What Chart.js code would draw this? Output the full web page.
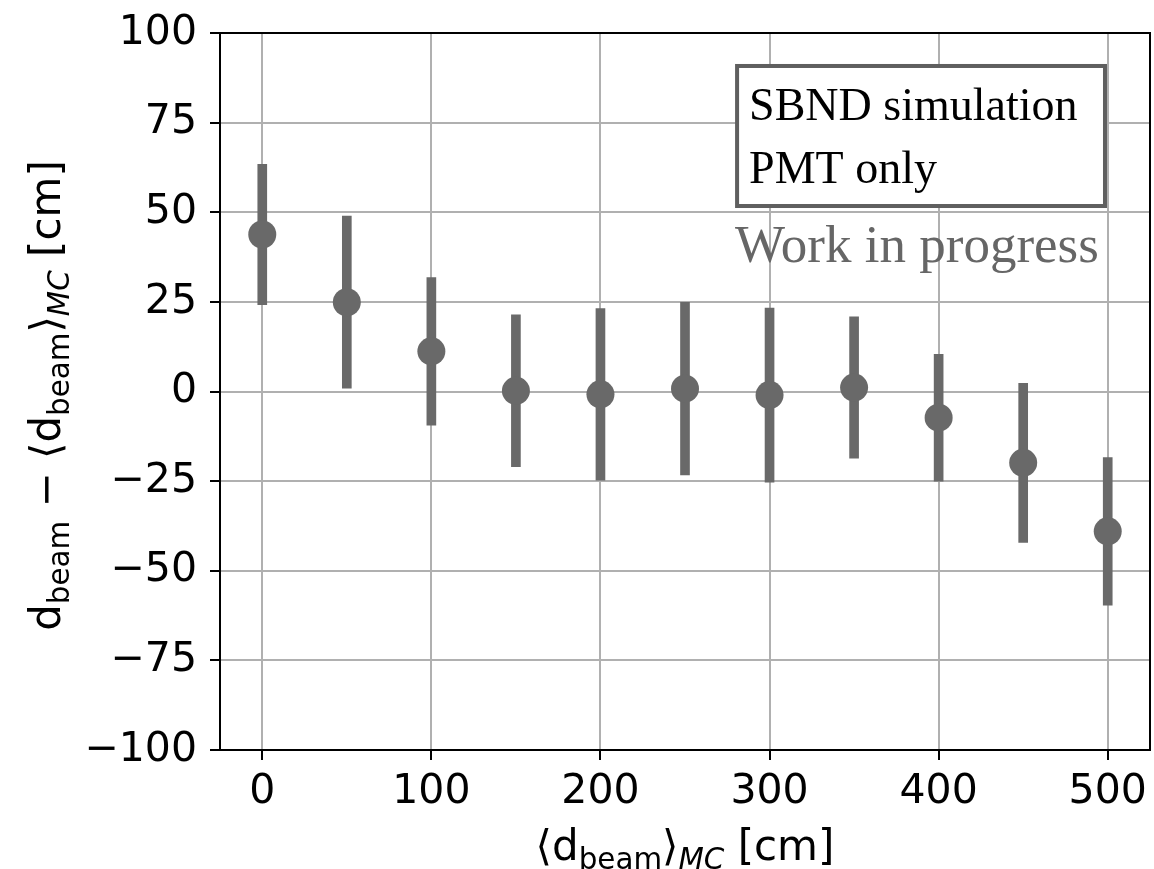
<!DOCTYPE html>
<html>
<head>
<meta charset="utf-8">
<script src="https://cdn.jsdelivr.net/npm/chart.js@4.4.1/dist/chart.umd.min.js"></script>
<style>
  body { margin: 0; background: #fff; }
  #wrap { width: 1154px; height: 869px; }
</style>
</head>
<body>
<div id="wrap"><canvas id="myChart" width="1154" height="869"></canvas></div>
<script>
// <d_beam>_MC bins [cm]
const beamMC = [0, 50, 100, 150, 200, 250, 300, 350, 400, 450, 500];
// mean of d_beam - <d_beam>_MC [cm]
const meanDiff = [43.8, 24.9, 11.2, 0.2, -0.8, 0.8, -1.0, 1.1, -7.3, -19.9, -39.0];
// spread (error bar half length) [cm]
const sigma = [19.6, 24.0, 20.6, 21.2, 23.9, 24.1, 24.3, 19.7, 17.7, 22.2, 20.6];

const xTickValues = [0, 100, 200, 300, 400, 500];
const yTickValues = [-100, -75, -50, -25, 0, 25, 50, 75, 100];

const boxLines = ['SBND simulation', 'PMT only'];
const wipLabel = 'Work in progress';

const grey = '#696969';
const sans = '"DejaVu Sans"';
const serif = '"Liberation Serif"';

// pieces of the axis titles, sub = subscript
const xTitle = [
    { t: '\u27E8d' }, { t: 'beam', sub: true }, { t: '\u27E9' },
    { t: 'MC', sub: true, italic: true }, { t: ' [cm]' }
];
const yTitle = [
    { t: 'd' }, { t: 'beam', sub: true }, { t: ' \u2212 \u27E8d' }, { t: 'beam', sub: true },
    { t: '\u27E9' }, { t: 'MC', sub: true, italic: true }, { t: ' [cm]' }
];

function partFont(p, size) {
    return (p.italic ? 'italic ' : '') + (p.sub ? size * 0.7 : size) + 'px ' + sans;
}

function drawRich(ctx, parts, x, y, size) {
    let total = 0;
    parts.forEach(p => {
        ctx.font = partFont(p, size);
        p.w = ctx.measureText(p.t).width;
        total += p.w;
    });
    let cx = x - total / 2;
    parts.forEach(p => {
        ctx.font = partFont(p, size);
        ctx.fillText(p.t, cx, y + (p.sub ? size * 0.22 : 0));
        cx += p.w;
    });
}

const decorations = {
    id: 'decorations',
    afterDraw(chart) {
        const ctx = chart.ctx;
        const a = chart.chartArea;
        const w = a.right - a.left, h = a.bottom - a.top;
        ctx.save();

        // text box
        const bx0 = a.left + 0.556 * w, bx1 = a.left + 0.9516 * w;
        const by0 = a.top + 0.046 * h, by1 = a.top + 0.2413 * h;
        ctx.fillStyle = '#fff';
        ctx.fillRect(bx0, by0, bx1 - bx0, by1 - by0);
        ctx.strokeStyle = '#5f5f5f';
        ctx.lineWidth = 4;
        ctx.strokeRect(bx0, by0, bx1 - bx0, by1 - by0);

        ctx.fillStyle = '#000';
        ctx.textAlign = 'left';
        ctx.textBaseline = 'alphabetic';
        ctx.font = '46px ' + serif;
        ctx.fillText(boxLines[0], bx0 + 12, a.top + 0.122 * h);
        ctx.fillText(boxLines[1], bx0 + 12, a.top + 0.209 * h);

        ctx.fillStyle = '#666';
        ctx.font = '53px ' + serif;
        ctx.fillText(wipLabel, bx0 - 2, a.top + 0.32 * h);

        // frame
        ctx.strokeStyle = '#000';
        ctx.lineWidth = 2;
        ctx.strokeRect(a.left, a.top, w, h);

        // axis titles
        ctx.fillStyle = '#000';
        drawRich(ctx, xTitle, (a.left + a.right) / 2, 860, 42);
        ctx.translate(60, (a.top + a.bottom) / 2 + 4);
        ctx.rotate(-Math.PI / 2);
        drawRich(ctx, yTitle, 0, 0, 42);
        ctx.restore();
    }
};

Chart.defaults.font.family = sans;

const myChart = new Chart(document.getElementById('myChart').getContext('2d'), {
    type: 'scatter',
    data: {
        datasets: [
            {
                type: 'scatter',
                data: beamMC.map((x, i) => ({ x: x, y: meanDiff[i] })),
                backgroundColor: grey,
                borderWidth: 0,
                pointRadius: 14,
                pointHoverRadius: 14
            },
            {
                type: 'bar',
                data: beamMC.map((x, i) => ({ x: x, y: [meanDiff[i] - sigma[i], meanDiff[i] + sigma[i]] })),
                backgroundColor: grey,
                borderWidth: 0,
                barThickness: 9,
                grouped: false
            }
        ]
    },
    options: {
        responsive: false,
        animation: false,
        layout: { autoPadding: false, padding: { top: 33, right: 4, left: 0, bottom: 0 } },
        plugins: { legend: { display: false }, tooltip: { enabled: false } },
        scales: {
            x: {
                type: 'linear',
                min: -25,
                max: 525,
                offset: false,
                afterBuildTicks: s => { s.ticks = xTickValues.map(v => ({ value: v })); },
                afterFit: s => { s.height = 119; s.paddingLeft = 0; s.paddingRight = 0; },
                grid: { offset: false, color: '#b0b0b0', lineWidth: 2, tickLength: 10, tickColor: '#000', tickWidth: 2 },
                border: { color: '#000', width: 2 },
                ticks: { color: '#000', font: { size: 41 }, padding: 8, maxRotation: 0, autoSkip: false }
            },
            y: {
                type: 'linear',
                min: -100,
                max: 100,
                afterBuildTicks: s => { s.ticks = yTickValues.map(v => ({ value: v })); },
                afterFit: s => { s.width = 220; s.paddingTop = 0; s.paddingBottom = 0; },
                grid: { color: '#b0b0b0', lineWidth: 2, tickLength: 10, tickColor: '#000', tickWidth: 2 },
                border: { color: '#000', width: 2 },
                ticks: {
                    color: '#000', font: { size: 41 }, padding: 13, autoSkip: false,
                    callback: v => String(v).replace('-', '\u2212')
                }
            }
        }
    },
    plugins: [decorations]
});
</script>
</body>
</html>
